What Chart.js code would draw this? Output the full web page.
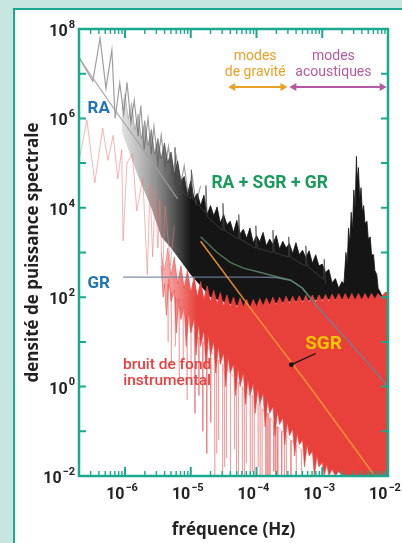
<!DOCTYPE html>
<html><head><meta charset="utf-8">
<script src="https://cdn.jsdelivr.net/npm/chart.js@4"></script>
<style>
html,body{margin:0;padding:0;background:#c7e6df;width:402px;height:543px;overflow:hidden;}
#box{position:absolute;left:13px;top:8px;width:400px;height:560px;background:#fff;border:2.5px solid #1aa88e;box-sizing:border-box;}
canvas{position:absolute;left:0;top:0;}
</style></head>
<body><div id="box"></div><canvas id="c" width="402" height="543"></canvas>
<script>
// ---- data (log10 frequency [Hz], log10 power) ----
const xTickExps = [-6,-5,-4,-3,-2];
const yTickExps = [-2,-1,0,1,2,3,4,5,6,7,8];
const yLabelExps = [-2,0,2,4,6,8];

// total spectrum (RA + SGR + GR), upper envelope of the dense band
const blackTop = [[-6.05,6.20],[-6.00,6.55],[-5.95,6.00],[-5.90,6.35],[-5.85,5.75],[-5.80,6.10],[-5.75,5.55],[-5.70,5.95],[-5.65,5.40],[-5.60,5.75],[-5.55,5.20],[-5.50,5.55],[-5.45,5.10],[-5.40,5.45],[-5.35,5.00],[-5.30,5.25],[-5.25,4.75],[-5.20,5.05],[-5.15,4.60],[-5.10,4.70],[-5.05,4.30],[-5.00,4.60],[-4.95,4.20],[-4.90,4.32],[-4.85,4.05],[-4.80,4.28],[-4.75,3.85],[-4.70,4.05],[-4.65,3.82],[-4.60,4.02],[-4.55,3.66],[-4.50,3.85],[-4.45,3.62],[-4.40,3.70],[-4.35,3.45],[-4.30,3.72],[-4.25,3.42],[-4.20,3.52],[-4.15,3.32],[-4.10,3.55],[-4.05,3.22],[-4.00,3.38],[-3.95,3.24],[-3.90,3.45],[-3.85,3.15],[-3.80,3.30],[-3.75,3.18],[-3.70,3.38],[-3.65,3.08],[-3.60,3.25],[-3.55,3.10],[-3.50,3.20],[-3.45,2.98],[-3.40,3.22],[-3.35,2.95],[-3.30,3.05],[-3.25,2.88],[-3.20,3.04],[-3.15,2.76],[-3.10,2.95],[-3.05,2.70],[-3.00,2.74],[-2.95,2.55],[-2.90,2.62],[-2.85,2.32],[-2.80,2.42],[-2.75,2.20],[-2.70,2.35],[-2.67,2.30],[-2.64,3.00],[-2.62,2.75],[-2.60,3.55],[-2.58,3.20],[-2.56,3.90],[-2.54,3.50],[-2.52,4.40],[-2.50,4.00],[-2.48,5.15],[-2.47,4.60],[-2.45,4.90],[-2.43,4.20],[-2.41,4.45],[-2.39,3.90],[-2.37,4.05],[-2.35,3.65],[-2.32,3.70],[-2.30,3.30],[-2.27,3.35],[-2.25,2.95],[-2.22,2.95],[-2.20,2.60],[-2.17,2.50],[-2.15,2.20],[-2.12,2.12],[-2.10,2.05],[-2.05,2.00],[-2.00,1.98]];
const blackBottom = [[-6.05,5.70],[-5.80,4.70],[-5.60,4.00],[-5.45,3.35],[-5.30,3.10],[-5.00,2.50],[-4.70,2.00],[-4.40,1.85],[-4.10,1.75],[-3.80,1.85],[-3.50,1.90],[-3.00,1.95],[-2.50,1.95],[-2.00,1.95]];
// thin spikes poking above the dense band
const blackSpikes = [[-5.25,4.50],[-5.24,5.35],[-5.22,4.50],[-5.00,4.20],[-4.99,4.85],[-4.97,4.20],[-4.78,3.90],[-4.77,4.50],[-4.75,3.80],[-4.52,3.50],[-4.51,4.10],[-4.49,3.50],[-4.28,3.30],[-4.27,3.85],[-4.25,3.30],[-4.02,3.10],[-4.01,3.60],[-3.99,3.10],[-3.76,3.00],[-3.75,3.50],[-3.73,3.00],[-3.52,2.90],[-3.51,3.35],[-3.49,2.90],[-3.26,2.70],[-3.25,3.15],[-3.23,2.70],[-2.98,2.40],[-2.97,2.85],[-2.95,2.30]];
// total spectrum at low frequency (thin grey trace)
const blackLow = [[-6.70,7.37],[-6.49,6.83],[-6.38,7.80],[-6.29,6.67],[-6.20,7.53],[-6.15,6.00],[-6.08,6.79],[-6.02,6.10],[-5.97,6.81],[-5.91,5.90],[-5.86,6.40],[-5.80,5.60],[-5.76,6.29],[-5.71,5.30],[-5.65,6.00],[-5.60,5.20],[-5.56,5.82],[-5.50,5.00],[-5.45,5.62],[-5.39,4.90],[-5.34,5.37],[-5.28,4.70],[-5.22,5.15],[-5.16,4.50],[-5.10,4.94],[-5.04,4.30],[-4.98,4.72],[-4.92,4.10],[-4.85,4.49]];

// instrumental background noise
const redTop = [[-5.45,3.00],[-5.40,2.60],[-5.35,3.10],[-5.30,2.50],[-5.25,2.90],[-5.20,2.30],[-5.15,2.70],[-5.10,2.20],[-5.05,2.60],[-5.00,2.10],[-4.95,2.45],[-4.90,2.00],[-4.85,2.35],[-4.80,1.95],[-4.75,2.25],[-4.70,1.90],[-4.65,2.15],[-4.60,1.85],[-4.55,2.10],[-4.50,1.80],[-4.45,2.05],[-4.40,1.78],[-4.35,2.00],[-4.30,1.75],[-4.25,1.98],[-4.20,1.78],[-4.15,1.95],[-4.10,1.75],[-4.05,1.95],[-4.00,1.78],[-3.95,1.97],[-3.90,1.80],[-3.85,1.98],[-3.80,1.82],[-3.75,2.00],[-3.70,1.82],[-3.65,2.00],[-3.60,1.84],[-3.55,2.02],[-3.50,1.85],[-3.45,2.02],[-3.40,1.86],[-3.35,2.03],[-3.30,1.87],[-3.25,2.04],[-3.20,1.88],[-3.15,2.05],[-3.10,1.88],[-3.05,2.05],[-3.00,1.90],[-2.95,2.06],[-2.90,1.90],[-2.85,2.07],[-2.80,1.92],[-2.75,2.08],[-2.70,1.92],[-2.65,2.08],[-2.60,1.93],[-2.55,2.08],[-2.50,1.93],[-2.45,2.08],[-2.40,1.94],[-2.35,2.08],[-2.30,1.95],[-2.25,2.08],[-2.20,1.96],[-2.15,2.08],[-2.10,2.00],[-2.05,2.10],[-2.00,2.12]];
const redBottom = [[-5.45,2.70],[-5.42,2.00],[-5.40,2.30],[-5.37,1.60],[-5.33,2.40],[-5.30,1.90],[-5.25,2.15],[-5.22,1.20],[-5.18,1.95],[-5.15,1.50],[-5.10,1.80],[-5.07,0.90],[-5.03,1.65],[-5.00,1.20],[-4.95,1.50],[-4.92,0.70],[-4.88,1.40],[-4.85,0.90],[-4.80,1.25],[-4.77,0.40],[-4.73,1.15],[-4.70,0.70],[-4.65,1.00],[-4.62,0.30],[-4.58,0.90],[-4.55,0.50],[-4.50,0.75],[-4.47,0.00],[-4.43,0.65],[-4.40,0.30],[-4.35,0.50],[-4.32,-0.20],[-4.28,0.40],[-4.25,0.00],[-4.20,0.30],[-4.17,-0.40],[-4.13,0.15],[-4.10,-0.20],[-4.05,0.05],[-4.02,-0.60],[-3.98,-0.05],[-3.95,-0.40],[-3.90,-0.15],[-3.87,-0.90],[-3.83,-0.30],[-3.80,-0.60],[-3.75,-0.45],[-3.72,-1.10],[-3.68,-0.55],[-3.65,-0.85],[-3.60,-0.70],[-3.57,-1.30],[-3.53,-0.80],[-3.50,-1.10],[-3.45,-0.95],[-3.42,-1.55],[-3.38,-1.05],[-3.35,-1.30],[-3.30,-1.20],[-3.27,-1.80],[-3.23,-1.30],[-3.20,-1.55],[-3.15,-1.45],[-3.12,-2.00],[-3.08,-1.55],[-3.05,-1.80],[-3.00,-1.70],[-2.97,-2.00],[-2.93,-1.75],[-2.90,-2.00],[-2.85,-1.85],[-2.80,-2.00],[-2.75,-1.90],[-2.70,-2.00],[-2.00,-2.00]];
// faint downward spikes of the noise: [log f, top, bottom]
const redSpikeTable = [[-5.35,2.30,1.00],[-5.30,2.10,0.50],[-5.24,2.00,0.90],[-5.18,1.80,0.20],[-5.12,1.70,0.60],[-5.06,1.50,-0.30],[-5.00,1.30,0.20],[-4.94,1.20,-0.60],[-4.88,1.10,-0.20],[-4.82,1.00,-1.00],[-4.76,0.90,-1.50],[-4.70,0.80,-0.80],[-4.64,0.70,-2.00],[-4.61,0.50,-1.50],[-4.58,0.60,-1.20],[-4.52,0.50,-2.00],[-4.49,0.30,-1.80],[-4.46,0.40,-1.60],[-4.40,0.30,-2.00],[-4.34,0.20,-1.40],[-4.31,0.10,-1.90],[-4.28,0.10,-2.00],[-4.22,0.00,-2.00],[-4.19,-0.10,-2.00],[-4.16,-0.10,-1.70],[-4.10,-0.20,-2.00],[-4.07,-0.20,-1.90],[-4.04,-0.30,-2.00],[-3.98,-0.40,-1.80],[-3.95,-0.40,-2.00],[-3.92,-0.50,-2.00],[-3.86,-0.60,-2.00],[-3.83,-0.60,-2.00],[-3.80,-0.70,-2.00],[-3.74,-0.80,-1.90],[-3.71,-0.90,-2.00],[-3.68,-0.90,-2.00],[-3.62,-1.00,-2.00],[-3.58,-1.00,-2.00],[-3.55,-1.10,-2.00],[-3.48,-1.20,-2.00],[-3.40,-1.30,-2.00],[-3.32,-1.40,-2.00]];
const redLow = [[-6.70,5.06],[-6.58,5.96],[-6.46,4.56],[-6.34,5.78],[-6.26,5.06],[-6.18,5.62],[-6.11,4.65],[-6.05,5.30],[-6.03,3.26],[-5.97,5.00],[-5.89,5.21],[-5.82,3.93],[-5.73,4.67],[-5.66,2.50],[-5.62,4.50],[-5.58,2.90],[-5.54,4.38],[-5.50,3.10],[-5.47,4.20],[-5.43,2.40],[-5.39,4.04],[-5.31,2.70],[-5.25,3.60]];

// model components
const raModel = [[-6.70,7.35],[-6.15,6.18],[-5.60,5.05],[-5.20,4.20]];
const grModel = [[-6.03,2.45],[-5.00,2.45],[-4.00,2.45],[-3.70,2.44],[-3.48,2.38],[-3.30,2.20],[-3.13,1.88],[-2.90,1.50],[-2.50,0.85],[-2.06,0.11],[-2.00,-0.05]];
const sumModel = [[-4.85,3.35],[-4.60,3.00],[-4.40,2.78],[-4.20,2.65],[-3.98,2.57],[-3.75,2.48],[-3.48,2.38],[-3.30,2.20],[-3.13,1.90]];
const sgrModel = [[-4.85,3.25],[-4.09,1.75],[-3.13,-0.12],[-2.20,-2.00]];

const toPts = a => a.map(([f,p]) => ({x: Math.pow(10,f), y: Math.pow(10,p)}));
const redSpikes = redSpikeTable.flatMap(([f, t, b]) => [[f, t], [f + 0.004, b], [f + 0.008, t]]);

const FONT = 'Roboto, "Noto Sans", sans-serif';
const TFONT = '"Open Sans", Roboto, sans-serif';
const TEAL = '#1aa88e';

function line(data, color, width, extra) {
  return Object.assign({data: toPts(data), borderColor: color, borderWidth: width, pointRadius: 0, fill: false, tension: 0}, extra || {});
}
function fade(fromExp, toExp, c0, c1) {
  return (ctx) => {
    const chart = ctx.chart;
    if (!chart.chartArea) return c1;
    const xs = chart.scales.x;
    const g = chart.ctx.createLinearGradient(xs.getPixelForValue(Math.pow(10,fromExp)), 0, xs.getPixelForValue(Math.pow(10,toExp)), 0);
    g.addColorStop(0, c0); g.addColorStop(1, c1);
    return g;
  };
}

const datasets = [
  line(sgrModel, 'rgba(243,150,50,0.9)', 1.6),
  line(sumModel, 'rgba(90,135,105,0.85)', 1.4),
  line(grModel, 'rgba(110,130,155,0.9)', 1.4),
  line(raModel, 'rgba(160,160,160,0.8)', 1.4),
  line(redLow, 'rgba(236,120,120,0.55)', 1),
  line(blackLow, 'rgba(80,80,80,0.55)', 1.2),
  line(blackSpikes, 'rgba(70,70,70,0.7)', 1),
  line(redTop, fade(-5.45, -4.9, 'rgba(232,64,59,0.35)', '#e8403b'), 0.8, {fill: '+1', backgroundColor: fade(-5.45, -4.9, 'rgba(232,64,59,0.35)', '#e8403b')}),
  line(redBottom, 'rgba(232,64,59,0.9)', 0.6),
  line(blackTop, fade(-6.05, -5.0, 'rgba(120,120,120,0.3)', '#151515'), 0.8, {fill: '+1', backgroundColor: fade(-6.05, -5.0, 'rgba(120,120,120,0.22)', '#151515')}),
  line(blackBottom, 'rgba(0,0,0,0)', 0),
  line(redSpikes, 'rgba(232,90,90,0.38)', 1)
];

const notes = [
  {t:'RA', f:-6.40, p:6.22, c:'#1f74b8', font:'bold 17px '+FONT},
  {t:'GR', f:-6.40, p:2.29, c:'#1f74b8', font:'bold 17px '+FONT},
  {t:'RA + SGR + GR', f:-3.80, p:4.54, c:'#1a9b5c', font:'bold 17.5px '+FONT},
  {t:'SGR', f:-2.98, p:0.94, c:'#f7c600', font:'bold 19px '+FONT},
  {t:'bruit de fond', f:-5.36, p:0.49, c:'#e84040', font:'500 15.5px '+FONT},
  {t:'instrumental', f:-5.36, p:0.13, c:'#e84040', font:'500 15.5px '+FONT},
  {t:'modes', f:-4.02, p:7.38, c:'#eaa027', font:'14px '+FONT},
  {t:'de gravité', f:-4.02, p:7.02, c:'#eaa027', font:'14px '+FONT},
  {t:'modes', f:-2.83, p:7.38, c:'#b45aa2', font:'14px '+FONT},
  {t:'acoustiques', f:-2.83, p:7.02, c:'#b45aa2', font:'14px '+FONT}
];
const arrows = [
  {f1:-4.43, f2:-3.53, p:6.70, c:'#eaa027'},
  {f1:-3.50, f2:-2.02, p:6.70, c:'#b45aa2'}
];
const pointer = {f1:-3.47, p1:0.49, f2:-3.10, p2:0.74};

function powerLabel(ctx, exp, cx, cy, align) {
  const base = 'bold 16px ' + FONT, supF = 'bold 11px ' + FONT;
  ctx.font = base; const w1 = ctx.measureText('10').width;
  const e = String(exp).replace('-', '\u2212');
  ctx.font = supF; const w2 = ctx.measureText(e).width + 1;
  const x0 = align === 'right' ? cx - w1 - w2 : cx - (w1 + w2) / 2;
  ctx.textAlign = 'left'; ctx.textBaseline = 'middle'; ctx.fillStyle = '#222';
  ctx.font = base; ctx.fillText('10', x0, cy + 3);
  ctx.font = supF; ctx.fillText(e, x0 + w1 + 1, cy - 4);
}

const decor = {
  id: 'decor',
  afterDatasetsDraw(chart) {
    const {ctx, scales: {x, y}} = chart;
    const X = f => x.getPixelForValue(Math.pow(10,f));
    const Y = p => y.getPixelForValue(Math.pow(10,p));
    ctx.save();
    ctx.strokeStyle = '#111'; ctx.lineWidth = 1.3;
    ctx.beginPath(); ctx.moveTo(X(pointer.f1), Y(pointer.p1)); ctx.lineTo(X(pointer.f2), Y(pointer.p2)); ctx.stroke();
    ctx.fillStyle = '#111'; ctx.beginPath(); ctx.arc(X(pointer.f1), Y(pointer.p1), 2.4, 0, Math.PI*2); ctx.fill();
    ctx.textAlign = 'center'; ctx.textBaseline = 'middle';
    notes.forEach(n => { ctx.font = n.font; ctx.fillStyle = n.c; ctx.fillText(n.t, X(n.f), Y(n.p)); });
    arrows.forEach(a => {
      const x1 = X(a.f1), x2 = X(a.f2), yy = Y(a.p);
      ctx.strokeStyle = a.c; ctx.fillStyle = a.c; ctx.lineWidth = 2;
      ctx.beginPath(); ctx.moveTo(x1+4, yy); ctx.lineTo(x2-4, yy); ctx.stroke();
      ctx.beginPath(); ctx.moveTo(x1, yy); ctx.lineTo(x1+7, yy-4); ctx.lineTo(x1+7, yy+4); ctx.closePath(); ctx.fill();
      ctx.beginPath(); ctx.moveTo(x2, yy); ctx.lineTo(x2-7, yy-4); ctx.lineTo(x2-7, yy+4); ctx.closePath(); ctx.fill();
    });
    ctx.restore();
  },
  afterDraw(chart) {
    const {ctx, chartArea: a, scales: {x, y}} = chart;
    ctx.save();
    ctx.strokeStyle = TEAL;
    ctx.lineWidth = 2;
    yTickExps.forEach(e => {
      const py = y.getPixelForValue(Math.pow(10,e));
      ctx.beginPath(); ctx.moveTo(a.left, py); ctx.lineTo(a.left+7, py);
      ctx.moveTo(a.right-7, py); ctx.lineTo(a.right, py); ctx.stroke();
    });
    for (let e = -7; e <= -2; e++) {
      for (let m = 1; m <= 9; m++) {
        const v = m * Math.pow(10, e);
        if (v <= x.min * 1.02 || v > x.max * 1.001) continue;
        const px = x.getPixelForValue(v);
        const len = m === 1 ? 9 : 5;
        ctx.lineWidth = m === 1 ? 2 : 1.4;
        ctx.beginPath(); ctx.moveTo(px, a.bottom); ctx.lineTo(px, a.bottom-len);
        ctx.moveTo(px, a.top); ctx.lineTo(px, a.top+len); ctx.stroke();
      }
    }
    ctx.lineWidth = 2.5;
    ctx.strokeRect(a.left, a.top, a.right-a.left, a.bottom-a.top);
    yLabelExps.forEach(e => powerLabel(ctx, e, a.left - 4, y.getPixelForValue(Math.pow(10,e)), 'right'));
    xTickExps.forEach(e => powerLabel(ctx, e, x.getPixelForValue(Math.pow(10,e)) - 3, a.bottom + 16, 'center'));
    ctx.restore();
  }
};

new Chart(document.getElementById('c'), {
  type: 'line',
  data: {datasets},
  options: {
    responsive: false, animation: false, devicePixelRatio: 1,
    layout: {padding: {left: 0, right: 14, top: 29, bottom: 0}},
    plugins: {legend: {display: false}, tooltip: {enabled: false}},
    scales: {
      x: {
        type: 'logarithmic', min: Math.pow(10,-6.70), max: 1e-2, bounds: 'data',
        afterBuildTicks: s => { s.ticks = xTickExps.map(e => ({value: Math.pow(10,e)})); },
        afterFit: s => { s.height = 67; },
        grid: {display: false, drawTicks: false}, border: {display: false},
        ticks: {display: false},
        title: {display: true, text: 'fréquence (Hz)', color: '#222', font: {family: TFONT, size: 17, weight: 'bold'}, padding: {top: 0, bottom: 3}}
      },
      y: {
        type: 'logarithmic', min: 1e-2, max: 1e8, bounds: 'data',
        afterBuildTicks: s => { s.ticks = yTickExps.map(e => ({value: Math.pow(10,e)})); },
        afterFit: s => { s.width = 79; },
        grid: {display: false, drawTicks: false}, border: {display: false},
        ticks: {display: false},
        title: {display: true, text: 'densité de puissance spectrale', color: '#222', font: {family: TFONT, size: 17, weight: 'bold'}, padding: {top: 23, bottom: 0}}
      }
    }
  },
  plugins: [decor]
});
</script></body></html>
